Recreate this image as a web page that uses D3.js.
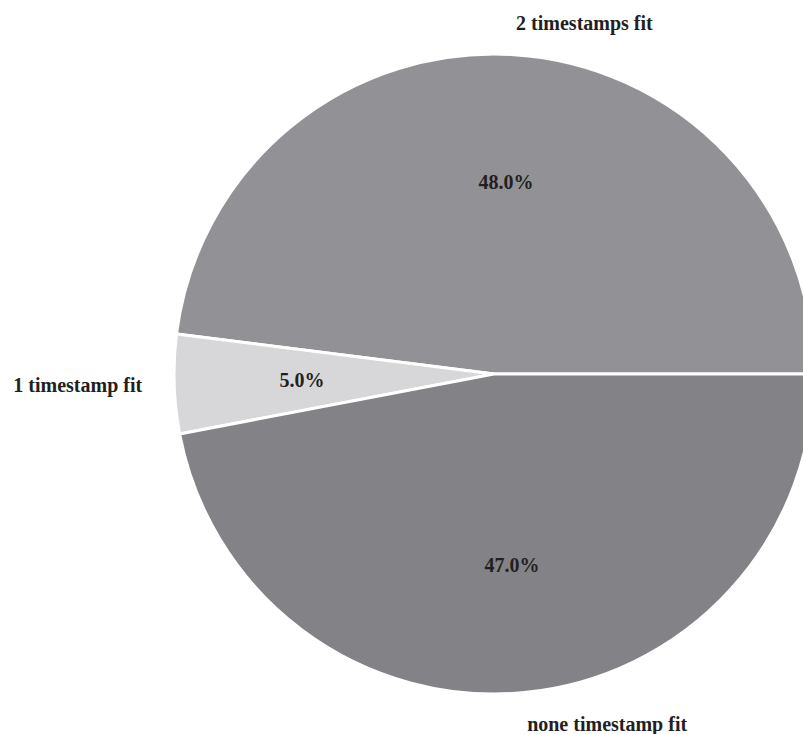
<!DOCTYPE html>
<html>
<head>
<meta charset="utf-8">
<script src="https://cdn.jsdelivr.net/npm/d3@7"></script>
<style>
  html, body { margin: 0; padding: 0; background: #ffffff; }
  svg { display: block; }
</style>
</head>
<body>
<svg id="chart" width="803" height="734"></svg>
<script>
// Share of samples by how many timestamps fit
const categories = ["2 timestamps fit", "1 timestamp fit", "none timestamp fit"];
const shares = [48.0, 5.0, 47.0];
const sliceColors = ["#929296", "#d7d7d9", "#838387"];

const width = 803, height = 734;
const cx = 494, cy = 374, radius = 320;

const svg = d3.select("#chart");
const g = svg.append("g").attr("transform", `translate(${cx},${cy})`);

// Slices run counter-clockwise starting from the 3 o'clock position
const pie = d3.pie()
  .sort(null)
  .value(d => d.value)
  .startAngle(Math.PI / 2)
  .endAngle(Math.PI / 2 - 2 * Math.PI);

const data = categories.map((c, i) => ({ name: c, value: shares[i], color: sliceColors[i] }));
const arcs = pie(data);

const arc = d3.arc().innerRadius(0).outerRadius(radius);

g.selectAll("path.slice")
  .data(arcs)
  .join("path")
  .attr("class", "slice")
  .attr("d", arc)
  .attr("fill", d => d.data.color)
  .attr("stroke", "#ffffff")
  .attr("stroke-width", 3)
  .attr("stroke-linejoin", "miter");

const midAngle = d => (d.startAngle + d.endAngle) / 2;
const polar = (a, r) => [r * Math.sin(a), -r * Math.cos(a)];

const font = "'Liberation Serif', 'Times New Roman', serif";

// Category labels just outside the rim
g.selectAll("text.cat")
  .data(arcs)
  .join("text")
  .attr("class", "cat")
  .attr("x", d => polar(midAngle(d), radius * 1.1)[0])
  .attr("y", d => polar(midAngle(d), radius * 1.1)[1])
  .attr("text-anchor", d => polar(midAngle(d), 1)[0] > 0 ? "start" : "end")
  .attr("dominant-baseline", "central")
  .style("font-family", font)
  .style("font-weight", "bold")
  .style("font-size", "20px")
  .attr("fill", "#231f20")
  .text(d => d.data.name);

// Percentage labels inside each slice
g.selectAll("text.pct")
  .data(arcs)
  .join("text")
  .attr("class", "pct")
  .attr("x", d => polar(midAngle(d), radius * 0.6)[0])
  .attr("y", d => polar(midAngle(d), radius * 0.6)[1])
  .attr("text-anchor", "middle")
  .attr("dominant-baseline", "central")
  .style("font-family", font)
  .style("font-weight", "bold")
  .style("font-size", "20px")
  .attr("fill", "#231f20")
  .text(d => d.data.value.toFixed(1) + "%");
</script>
</body>
</html>
